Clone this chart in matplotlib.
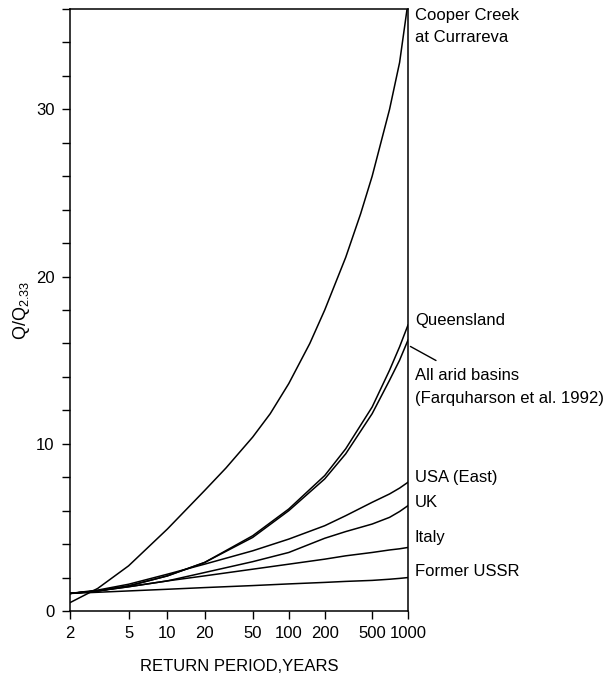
import numpy as np
import matplotlib
matplotlib.use("Agg")
import matplotlib.pyplot as plt
from matplotlib.ticker import FixedLocator, MultipleLocator, NullLocator

plt.rcParams['font.family'] = ['Liberation Sans', 'DejaVu Sans']
plt.rcParams['mathtext.fontset'] = 'custom'
plt.rcParams['mathtext.rm'] = 'Liberation Sans'

## ---- data ----
return_period = [2, 3, 5, 10, 20, 50, 100, 200, 300, 500, 700, 850, 1000]

cooper_T = [2, 3, 5, 10, 20, 30, 50, 70, 100, 150, 200, 300, 400, 500, 700, 850, 1000]
cooper = [0.5, 1.35, 2.7, 4.9, 7.2, 8.55, 10.4, 11.8, 13.6, 16.0, 18.0, 21.15, 23.75,
          26.0, 30.0, 32.8, 36.4]

queensland = [1.05, 1.2, 1.5, 2.1, 2.9, 4.5, 6.1, 8.1, 9.7, 12.2, 14.4, 15.8, 17.1]
arid_basins = [1.05, 1.2, 1.5, 2.1, 2.9, 4.4, 6.0, 7.9, 9.4, 11.8, 13.8, 15.0, 16.2]
usa_east = [1.05, 1.25, 1.6, 2.2, 2.8, 3.6, 4.3, 5.1, 5.7, 6.5, 7.0, 7.35, 7.7]
uk = [1.05, 1.2, 1.45, 1.8, 2.3, 2.95, 3.5, 4.35, 4.75, 5.2, 5.6, 5.95, 6.3]
italy = [1.05, 1.2, 1.45, 1.8, 2.1, 2.5, 2.8, 3.1, 3.3, 3.5, 3.65, 3.72, 3.8]
ussr = [1.05, 1.12, 1.2, 1.3, 1.4, 1.52, 1.62, 1.71, 1.77, 1.83, 1.9, 1.95, 2.0]

x_ticks = [2, 5, 10, 20, 50, 100, 200, 500, 1000]

# labels on the right side : (text, y value)
right_labels = [
    ("Cooper Creek\nat Currareva", 34.95),
    ("Queensland", 17.4),
    ("All arid basins\n(Farquharson et al. 1992)", 13.4),
    ("USA (East)", 8.0),
    ("UK", 6.5),
    ("Italy", 4.4),
    ("Former USSR", 2.35),
]


## ---- gumbel (extreme value) scale ----
def gumbel(t):
    t = np.asarray(t, dtype=float)
    t = np.clip(t, 1.0001, None)
    return -np.log(-np.log(1.0 - 1.0 / t))

def gumbel_inv(u):
    u = np.asarray(u, dtype=float)
    return 1.0 / (1.0 - np.exp(-np.exp(-u)))


fig = plt.figure(figsize=(6.06, 6.76), dpi=100)
ax = fig.add_axes([70/606, 1-611/676, 338/606, 602/676])
ax.set_xscale('function', functions=(gumbel, gumbel_inv))

lw = 1.1
ax.plot(cooper_T, cooper, color='black', lw=lw)
for serie in [queensland, arid_basins, usa_east, uk, italy, ussr]:
    ax.plot(return_period, serie, color='black', lw=lw)

ax.set_xlim(2, 1000)
ax.set_ylim(0, 36)

ax.xaxis.set_major_locator(FixedLocator(x_ticks))
ax.xaxis.set_minor_locator(NullLocator())
ax.set_xticklabels([str(t) for t in x_ticks])
ax.yaxis.set_major_locator(FixedLocator([0, 10, 20, 30]))
ax.yaxis.set_minor_locator(MultipleLocator(2))

ax.tick_params(axis='both', which='major', direction='out', length=6, width=1, labelsize=12, pad=5)
ax.tick_params(axis='y', which='minor', direction='out', length=6, width=1)
for sp in ax.spines.values():
    sp.set_linewidth(1.1)

ax.set_xlabel('RETURN PERIOD,YEARS', fontsize=12, labelpad=13)
ax.set_ylabel(r'Q/Q$_{\mathregular{2.33}}$', fontsize=13, labelpad=3)

for txt, yv in right_labels:
    ax.annotate(txt, xy=(1, yv), xycoords=('axes fraction', 'data'),
                xytext=(5, 0), textcoords='offset points',
                ha='left', va='center', fontsize=12, linespacing=1.65)

# pointer from the arid basin curve to its label
ax.annotate('', xy=(1, 15.9), xycoords=('axes fraction', 'data'),
            xytext=(1.09, 14.9), textcoords=('axes fraction', 'data'),
            arrowprops=dict(arrowstyle='-', color='black', lw=1), annotation_clip=False)

fig.savefig('out.png', dpi=100)
